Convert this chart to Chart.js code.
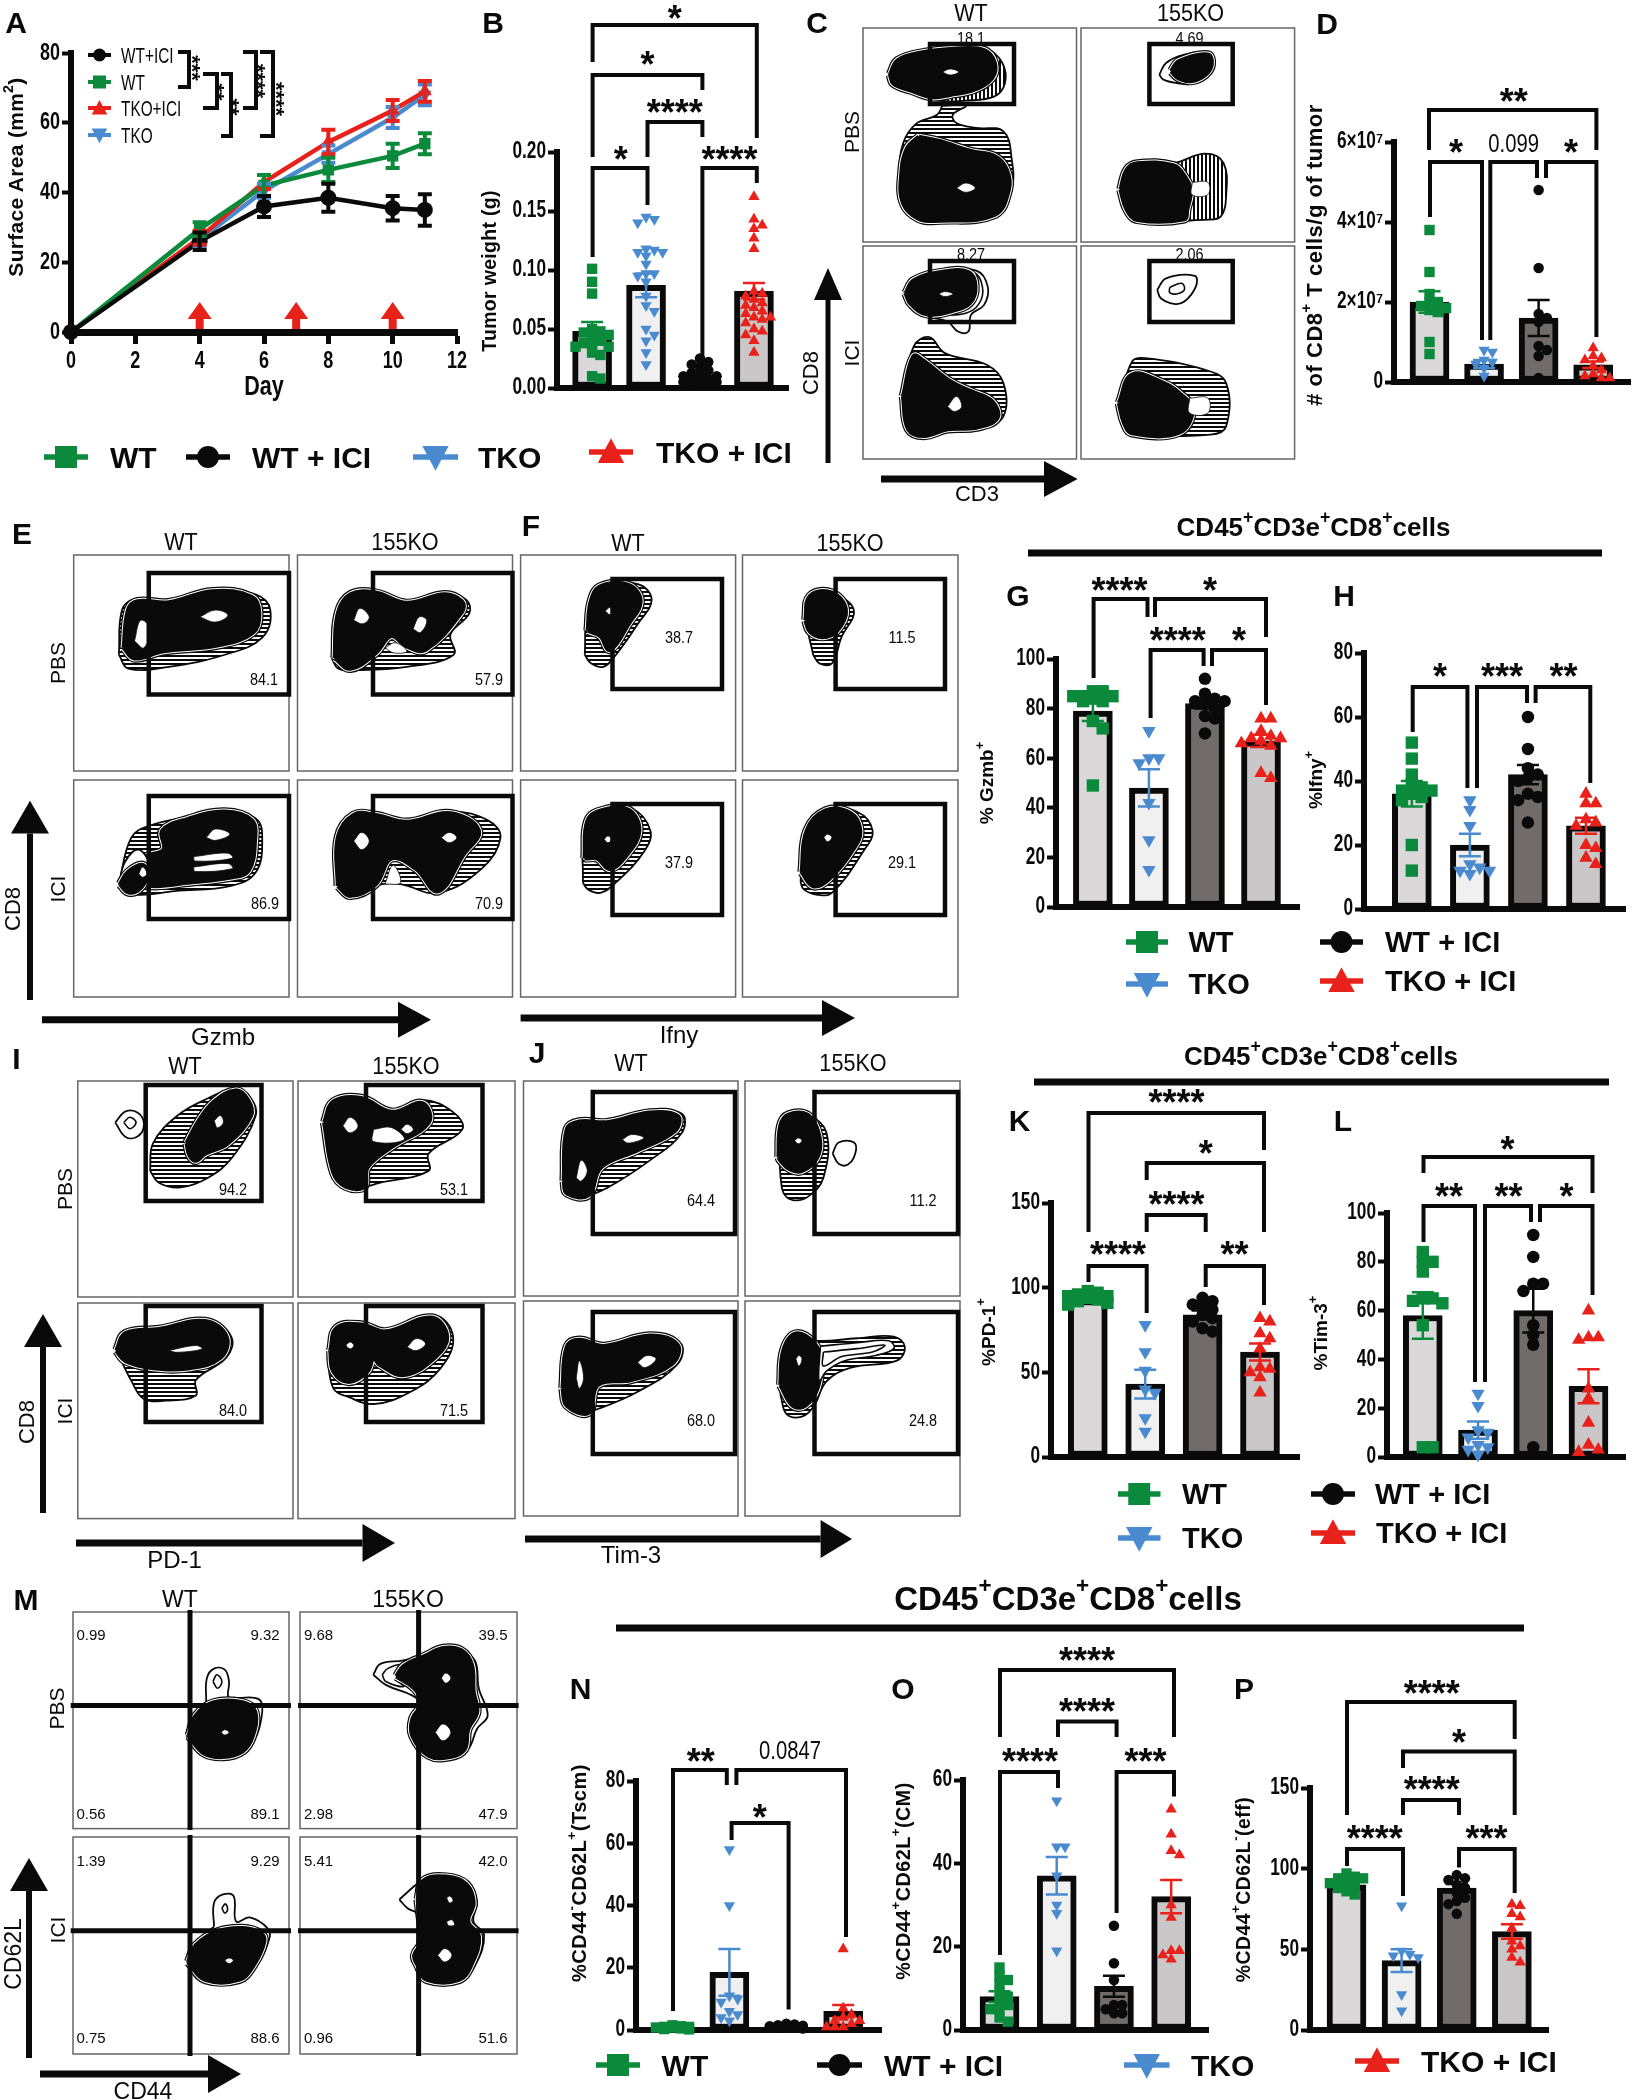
<!DOCTYPE html>
<html>
<head>
<meta charset="utf-8">
<title>CD8 T cell figure</title>
<script src="https://cdn.jsdelivr.net/npm/chart.js@4"></script>
<style>
  body { margin: 0; background: #fff; }
  #page { position: relative; width: 1636px; height: 2100px; overflow: hidden; }
  canvas { position: absolute; z-index: 1; }
  svg { position: absolute; left: 0; top: 0; z-index: 2; }
</style>
</head>
<body>
<div id="page"><svg id="ann" width="1636" height="2100"></svg></div>
<script>
// ---------- panel A, tumor growth
const days = [0, 4, 6, 8, 10, 11];
const arrowDays = [4, 7, 10];
const aWtIci = [0, 26, 36, 38.5, 35.5, 35];
const aWtIciErr = [0, 2.5, 3, 4, 3.5, 4.5];
const aWt = [0, 29.5, 42, 46.5, 50.5, 54];
const aWtErr = [0, 2, 3, 3.5, 3.5, 3];
const aTkoIci = [0, 27, 43, 54.5, 63.5, 69];
const aTkoIciErr = [0, 2, 2, 3.5, 3, 3];
const aTko = [0, 26.5, 40.5, 51, 61.5, 68];
const aTkoErr = [0, 2, 2, 2.5, 3, 3];

// ---------- bar panels, order is WT, TKO, WT+ICI, TKO+ICI
const bMeans = [0.048, 0.087, 0.01, 0.082];
const bSem = [0.008, 0.01, 0.002, 0.007];
const bWT = [0.101, 0.09, 0.08, 0.05, 0.048, 0.047, 0.045, 0.043, 0.04, 0.038, 0.037, 0.035, 0.035, 0.03, 0.028, 0.01, 0.008];
const bTKO = [0.145, 0.143, 0.14, 0.118, 0.117, 0.115, 0.115, 0.112, 0.105, 0.097, 0.097, 0.095, 0.09, 0.078, 0.07, 0.065, 0.05, 0.045, 0.04, 0.03, 0.02];
const bICI = [0.025, 0.022, 0.02, 0.018, 0.015, 0.013, 0.012, 0.01, 0.01, 0.008, 0.007, 0.006, 0.005, 0.005, 0.004, 0.003];
const bTI = [0.162, 0.143, 0.138, 0.135, 0.127, 0.118, 0.082, 0.08, 0.078, 0.075, 0.072, 0.07, 0.068, 0.065, 0.063, 0.06, 0.06, 0.058, 0.055, 0.05, 0.048, 0.045, 0.04, 0.03];

const dMeans = [2.0e7, 0.45e7, 1.6e7, 0.43e7];
const dSem = [0.27e7, 0.1e7, 0.45e7, 0.08e7];
const dWT = [3.8e7, 2.75e7, 2.2e7, 2.0e7, 2.0e7, 1.9e7, 1.85e7, 1.8e7, 1.75e7, 1.0e7, 0.7e7];
const dTKO = [0.8e7, 0.75e7, 0.55e7, 0.5e7, 0.45e7, 0.35e7, 0.15e7];
const dICI = [4.8e7, 2.85e7, 1.7e7, 1.6e7, 1.5e7, 0.9e7, 0.8e7, 0.65e7, 0.1e7];
const dTI = [0.85e7, 0.65e7, 0.6e7, 0.55e7, 0.4e7, 0.3e7, 0.2e7, 0.15e7, 0.1e7, 0.1e7];

const gMeans = [79, 48, 82, 67];
const gSem = [4, 7.5, 2, 2.5];
const gWT = [87, 87, 85, 85, 85, 84, 83, 83, 75, 72, 49];
const gTKO = [71, 60, 60, 58, 42, 27, 15];
const gICI = [92, 86, 84, 83, 83, 82, 80, 77, 76, 70];
const gTI = [76, 76, 71, 69, 68, 68, 67, 66, 65, 54, 52];

const hMeans = [36, 20, 42, 26];
const hSem = [4, 3.5, 3, 2.5];
const hWT = [52, 47, 42, 39, 38, 37, 37, 36, 35, 34, 20, 12];
const hTKO = [34, 31, 26, 14, 13, 12, 12, 11];
const hICI = [60, 50, 44, 42, 41, 40, 36, 35, 34, 27];
const hTI = [36, 33, 33, 28, 27, 26, 20, 19, 16, 14];

const kMeans = [93, 43, 84, 62];
const kSem = [1, 8.5, 2.5, 5];
const kWT = [98, 97, 96, 95, 95, 94, 93, 92, 91, 90];
const kTKO = [78, 62, 51, 40, 38, 23, 15];
const kICI = [94, 92, 90, 89, 87, 84, 82, 80, 76, 74];
const kTI = [82, 80, 73, 70, 64, 53, 52, 50, 47, 38];

const lMeans = [58, 11, 60, 29];
const lSem = [9.5, 3.5, 9, 7];
const lWT = [84, 80, 80, 76, 65, 65, 64, 63, 54, 4, 4];
const lTKO = [26, 21, 11, 10, 8, 5, 4, 3, 1];
const lICI = [91, 82, 71, 71, 68, 54, 50, 46, 4];
const lTI = [60, 49, 49, 48, 28, 24, 14, 5, 3, 2];

const nMeans = [0.8, 18.5, 1.2, 6];
const nSem = [0.2, 7.5, 0.2, 2];
const nWT = [1.5, 1.2, 1, 1, 0.8, 0.8, 0.5, 0.3, 0.2];
const nTKO = [58, 40, 11, 10, 9, 6, 5, 4, 3];
const nICI = [2, 1.8, 1.5, 1.4, 1.2, 1, 1, 0.8, 0.5];
const nTI = [26, 7, 5, 4, 3, 3, 2, 1, 1, 1];

const oMeans = [8, 37, 10.5, 32];
const oSem = [1.3, 4.5, 2.5, 4];
const oWT = [15, 13, 12, 11, 9, 8, 7, 6, 5, 5, 3, 2];
const oTKO = [55, 44, 44, 37, 30, 28, 19];
const oICI = [25, 16, 12, 6, 6, 5, 4, 4];
const oTI = [53, 47, 43, 42, 30, 27, 19, 19, 18, 17];

const pMeans = [90, 43, 88, 61];
const pSem = [1.5, 7, 2.5, 4.5];
const pWT = [97, 95, 94, 94, 92, 91, 90, 88, 86, 84];
const pTKO = [77, 49, 47, 46, 45, 22, 12];
const pICI = [96, 94, 93, 90, 88, 85, 82, 80, 78, 72];
const pTI = [78, 77, 72, 70, 63, 55, 52, 50, 45, 42];

// ---------- tick labels
const aTicks = [0, 20, 40, 60, 80];
const bTicks = [0, 0.05, 0.1, 0.15, 0.2];
const bTickLabels = ['0.00', '0.05', '0.10', '0.15', '0.20'];
const dTicks = [0, 2e7, 4e7, 6e7];
const dTickLabels = ['0', '2×10⁷', '4×10⁷', '6×10⁷'];
const pct100 = [0, 20, 40, 60, 80, 100];
const pct80 = [0, 20, 40, 60, 80];
const pct60 = [0, 20, 40, 60];
const pct150 = [0, 50, 100, 150];

const GREEN = '#0b8a3c', BLUE = '#4a8bd0', BLACK = '#0a0a0a', RED = '#e8211a';
const groupColors = [GREEN, BLUE, BLACK, RED];
const barFills = ['#dad8d9', '#f0f0f0', '#716c69', '#c9c7c7'];
const SANS = '"Liberation Sans", sans-serif';

Chart.defaults.animation = false;
Chart.defaults.responsive = false;
Chart.defaults.plugins.legend.display = false;
Chart.defaults.plugins.tooltip.enabled = false;
Chart.defaults.color = '#000';

const page = document.getElementById('page');
function makeCanvas(x, y, w, h) {
  const c = document.createElement('canvas');
  c.width = w; c.height = h;
  c.style.left = x + 'px'; c.style.top = y + 'px';
  page.appendChild(c);
  return c;
}

// no narrow font on the box, so squeeze the tick labels by hand
function condense(canvas, sx) {
  const ctx = canvas.getContext('2d');
  const fill = ctx.fillText;
  ctx.fillText = function (s, x, y) {
    this.save();
    this.translate(x, y);
    this.scale(sx, 1);
    fill.call(this, s, 0, 0);
    this.restore();
  };
}

function drawErr(ctx, x, yLo, yHi, color, lw, cap) {
  ctx.save();
  ctx.strokeStyle = color; ctx.lineWidth = lw;
  ctx.beginPath();
  ctx.moveTo(x, yLo); ctx.lineTo(x, yHi);
  ctx.moveTo(x - cap, yLo); ctx.lineTo(x + cap, yLo);
  ctx.moveTo(x - cap, yHi); ctx.lineTo(x + cap, yHi);
  ctx.stroke();
  ctx.restore();
}

// graphpad style swarm, spreads the points sideways only when they would touch
function swarm(values, pxPerUnit, mark, spacing) {
  const placed = [];
  const slots = [0, 1, -1, 2, -2];
  [...values].sort((a, b) => b - a).forEach(v => {
    const py = v * pxPerUnit;
    let best = 0, bestGap = -1;
    for (const slot of slots) {
      const px = slot * mark * 0.8;
      const gap = Math.min(Infinity, ...placed.map(o => Math.hypot(o.px - px, o.py - py)));
      if (gap >= mark * 0.62) { best = px; bestGap = Infinity; break; }
      if (gap > bestGap) { bestGap = gap; best = px; }
    }
    placed.push({ px: best, py, x: best / spacing, y: v });
  });
  return placed;
}

function barPanel(o) {
  const padL = 75, padT = 20, padR = 4, padB = 20;
  const w = o.right - o.left, h = o.y0 - o.yTop;
  const s = (o.centers[3] - o.centers[0]) / 3;
  const canvas = makeCanvas(o.left - padL, o.yTop - padT, w + padL + padR, h + padT + padB);
  condense(canvas, 0.75);
  const pxPerUnit = h / o.max;
  const shapes = [['rect', 0], ['triangle', 180], ['circle', 0], ['triangle', 0]];
  const mark = o.mark || 12.5;
  const datasets = [];
  o.points.forEach((vals, g) => {
    const pts = swarm(vals, pxPerUnit, mark, s).map(p => ({ x: g + p.x, y: p.y }));
    datasets.push({
      type: 'scatter', data: pts, clip: false,
      pointStyle: shapes[g][0], pointRotation: shapes[g][1],
      pointRadius: shapes[g][0] === 'rect' ? mark * 0.7 : shapes[g][0] === 'circle' ? mark / 2 : mark * 0.62,
      pointBackgroundColor: groupColors[g], pointBorderWidth: 0
    });
  });
  datasets.push({
    type: 'bar', data: o.means.map((v, i) => ({ x: i, y: v })),
    backgroundColor: barFills, borderColor: BLACK, borderWidth: 6,
    borderSkipped: false, barThickness: 39
  });
  new Chart(canvas, {
    type: 'bar',
    data: { datasets },
    options: {
      layout: { padding: { top: padT, right: padR } },
      scales: {
        x: {
          type: 'linear', offset: false, min: (o.left - o.centers[0]) / s, max: (o.right - o.centers[0]) / s,
          grid: { display: false, offset: false }, ticks: { display: false },
          border: { color: BLACK, width: 6 }, afterFit(a) { a.height = padB; }
        },
        y: {
          min: 0, max: o.max,
          afterBuildTicks(a) { a.ticks = o.ticks.map(v => ({ value: v })); },
          afterFit(a) { a.width = padL; },
          grid: { drawOnChartArea: false, tickLength: 9, tickWidth: 4, tickColor: BLACK },
          border: { color: BLACK, width: 6 },
          ticks: {
            font: { family: SANS, size: 23, weight: 'bold' }, color: BLACK, padding: 2,
            callback: (v, i) => (o.tickLabels ? o.tickLabels[i] : v)
          }
        }
      }
    },
    plugins: [{
      id: 'sem',
      afterDatasetsDraw(ch) {
        o.means.forEach((m, i) => {
          drawErr(ch.ctx, ch.scales.x.getPixelForValue(i), ch.scales.y.getPixelForValue(m - o.sem[i]),
            ch.scales.y.getPixelForValue(m + o.sem[i]), groupColors[i], 2.5, 11);
        });
      }
    }]
  });
}

// ---------- panel A
(function () {
  const padL = 60, padT = 20, padR = 20, padB = 48;
  const left = 71, right = 457.6, top = 53, bottom = 332;
  const canvas = makeCanvas(left - padL, top - padT, right - left + padL + padR, bottom - top + padT + padB);
  condense(canvas, 0.75);
  const series = [
    [aWtIci, aWtIciErr, BLACK, 'circle', 0],
    [aWt, aWtErr, GREEN, 'rect', 0],
    [aTkoIci, aTkoIciErr, RED, 'triangle', 0],
    [aTko, aTkoErr, BLUE, 'triangle', 180]
  ];
  new Chart(canvas, {
    type: 'line',
    data: {
      datasets: series.map(s => ({
        data: days.map((d, i) => ({ x: d, y: s[0][i] })), clip: false, tension: 0,
        borderColor: s[2], borderWidth: 4.5, pointStyle: s[3], pointRotation: s[4],
        pointRadius: 8, pointBackgroundColor: s[2], pointBorderWidth: 0
      }))
    },
    options: {
      layout: { padding: { top: padT, right: padR } },
      scales: {
        x: {
          type: 'linear', min: 0, max: 12,
          afterFit(a) { a.height = padB; },
          grid: { drawOnChartArea: false, tickLength: 12, tickWidth: 5, tickColor: BLACK },
          border: { color: BLACK, width: 7 },
          ticks: { stepSize: 2, font: { family: SANS, size: 24, weight: 'bold' }, color: BLACK, padding: 3, maxRotation: 0 }
        },
        y: {
          min: 0, max: 80,
          afterBuildTicks(a) { a.ticks = aTicks.map(v => ({ value: v })); },
          afterFit(a) { a.width = padL; },
          grid: { drawOnChartArea: false, tickLength: 9, tickWidth: 4, tickColor: BLACK },
          border: { color: BLACK, width: 6 },
          ticks: { font: { family: SANS, size: 24, weight: 'bold' }, color: BLACK, padding: 2 }
        }
      }
    },
    plugins: [{
      id: 'errAndArrows',
      afterDatasetsDraw(ch) {
        const x = ch.scales.x, y = ch.scales.y, ctx = ch.ctx;
        [...series].reverse().forEach(s => {
          days.forEach((d, i) => {
            if (s[1][i]) drawErr(ctx, x.getPixelForValue(d), y.getPixelForValue(s[0][i] - s[1][i]),
              y.getPixelForValue(s[0][i] + s[1][i]), s[2], 4, 7);
          });
        });
        arrowDays.forEach(d => {
          const px = x.getPixelForValue(d), base = y.getPixelForValue(0);
          ctx.fillStyle = RED;
          ctx.fillRect(px - 4, base - 18, 8, 15);
          ctx.beginPath();
          ctx.moveTo(px, base - 30); ctx.lineTo(px + 12, base - 13); ctx.lineTo(px - 12, base - 13);
          ctx.closePath(); ctx.fill();
        });
      }
    }]
  });
})();

barPanel({ left: 557, right: 792, yTop: 152, y0: 388, max: 0.2, centers: [592.6, 647.5, 702.4, 756.8], means: bMeans, sem: bSem, points: [bWT, bTKO, bICI, bTI], ticks: bTicks, tickLabels: bTickLabels, mark: 10.5 });
barPanel({ left: 1394, right: 1634, yTop: 142, y0: 382, max: 6e7, centers: [1430, 1486, 1541, 1596], means: dMeans, sem: dSem, points: [dWT, dTKO, dICI, dTI], ticks: dTicks, tickLabels: dTickLabels, mark: 10.5 });
barPanel({ left: 1056, right: 1304, yTop: 659, y0: 907, max: 100, centers: [1093.6, 1151, 1208, 1265], means: gMeans, sem: gSem, points: [gWT, gTKO, gICI, gTI], ticks: pct100 });
barPanel({ left: 1364, right: 1630, yTop: 653, y0: 909, max: 80, centers: [1412.7, 1471.7, 1531, 1590], means: hMeans, sem: hSem, points: [hWT, hTKO, hICI, hTI], ticks: pct80 });
barPanel({ left: 1051, right: 1304, yTop: 1203, y0: 1457, max: 150, centers: [1088.5, 1146.7, 1205.7, 1264], means: kMeans, sem: kSem, points: [kWT, kTKO, kICI, kTI], ticks: pct150 });
barPanel({ left: 1387, right: 1630, yTop: 1213, y0: 1457, max: 100, centers: [1423.5, 1480, 1536.4, 1592.5], means: lMeans, sem: lSem, points: [lWT, lTKO, lICI, lTI], ticks: pct100 });
barPanel({ left: 636, right: 885, yTop: 1781, y0: 2030, max: 80, centers: [673, 731.6, 788.6, 846], means: nMeans, sem: nSem, points: [nWT, nTKO, nICI, nTI], ticks: pct80, mark: 10.5 });
barPanel({ left: 963, right: 1212, yTop: 1780, y0: 2030, max: 60, centers: [1000, 1058, 1116.6, 1174], means: oMeans, sem: oSem, points: [oWT, oTKO, oICI, oTI], ticks: pct60, mark: 10.5 });
barPanel({ left: 1310, right: 1552, yTop: 1788, y0: 2030, max: 150, centers: [1347, 1403, 1459, 1514.7], means: pMeans, sem: pSem, points: [pWT, pTKO, pICI, pTI], ticks: pct150, mark: 10.5 });

// ---------- contour plots. box = page pixels, chan = instrument channel window of that plot
// o outer contour, m middle contours, c solid core, r open rings, h bright centres
// v = fringe contours run upright, w = no packed fringe
const flows = [
  // C
  { box: [863, 28, 1076.5, 242], chan: [83, 85, 493, 727], gate: [930, 44, 1014, 104], blobs: [
    { o: [235,318,225,345,185,372,160,430,153,520,160,610,190,660,230,665,340,650,368,570,368,480,352,395,300,385,262,370,255,345,280,318],
      c: [190,412,230,425,290,455,335,470,358,510,362,570,335,645,230,662,190,657,160,610,157,520,168,445] , h: [[262,565,280,550,298,565,280,578]] },
    { o: [132,225,150,180,200,155,260,145,320,148,350,190,355,250,335,290,280,303,225,303,175,280,140,255], v: 1,
      c: [135,225,150,182,200,158,260,148,315,152,335,190,330,235,295,270,250,285,215,292,175,272,142,252], h: [[235,217,250,208,266,217,250,226]] }
  ] },
  { box: [1081, 28, 1294.6, 242], chan: [502, 85, 912, 727], gate: [1149.4, 44, 1232.7, 104], blobs: [
    { o: [652,225,665,190,700,165,745,160,755,190,745,225,715,252,685,250,660,240], c: [675,215,690,185,745,165,752,195,740,225,715,243,690,236], w: 1 },
    { o: [578,570,590,510,610,490,680,490,740,462,775,490,780,590,770,650,745,660,610,660,590,630], v: 1,
      c: [578,570,590,510,610,492,680,498,700,530,712,570,705,630,700,658,610,660,590,630], h: [[715,548,745,548,745,585,715,585]] }
  ] },
  { box: [863, 246, 1076.5, 459], chan: [83, 738, 493, 1378], gate: [930, 261, 1014, 322], blobs: [
    { o: [158,1190,180,1040,210,1012,240,1060,320,1095,352,1150,352,1250,310,1285,245,1290,200,1310,170,1290],
      c: [160,1190,180,1070,200,1085,250,1145,290,1175,330,1205,340,1255,300,1283,245,1288,200,1308,170,1288], h: [[245,1220,262,1190,272,1220,258,1235]] },
    { o: [162,880,175,840,230,815,300,812,322,860,315,915,290,945,285,995,265,995,245,965,195,945,170,915], w: 1,
      m: [[165,880,178,842,230,820,295,818,312,862,305,912,280,940,230,945,195,940,172,912]],
      c: [165,880,180,842,230,818,285,817,298,860,288,908,255,932,205,942,175,912], h: [[228,882,240,875,255,882,240,890]] }
  ] },
  { box: [1081, 246, 1294.6, 459], chan: [502, 738, 912, 1378], gate: [1149.4, 261, 1232.7, 322], blobs: [
    { o: [648,870,665,835,720,828,722,860,700,905,680,912,655,895], r: [[672,862,695,850,700,870,685,882,672,878]], w: 1 },
    { o: [575,1210,600,1085,625,1075,740,1110,780,1150,780,1280,750,1305,600,1300,585,1270],
      c: [575,1210,600,1125,660,1150,690,1180,715,1230,690,1298,600,1300,585,1270], h: [[710,1195,745,1195,745,1240,710,1240]] }
  ] },
  // E
  { box: [73.7, 555, 289, 771], chan: [118, 130, 463, 758], gate: [148.75, 573, 289, 694.5], blobs: [
    { o: [190,420,195,290,215,258,265,260,340,232,410,245,433,290,420,370,360,420,270,455,205,460],
      c: [198,400,205,290,220,265,270,268,340,236,403,252,415,300,405,355,350,392,260,410,215,430],
      h: [[215,380,225,320,240,345,230,400],[320,310,345,290,365,305,345,325]] }
  ] },
  { box: [297.5, 555, 512.5, 771], chan: [476, 130, 820, 758], gate: [373, 573, 512.5, 694.5], blobs: [
    { o: [530,430,535,300,560,240,600,235,650,265,710,240,745,260,750,300,720,360,725,420,650,455,560,465,540,460],
      c: [535,430,540,300,560,245,600,240,650,270,710,245,738,265,738,295,680,405,650,395,625,365,600,415,560,460],
      h: [[565,320,575,285,590,310,580,330],[660,345,670,310,682,320,672,355],[615,400,632,385,650,410,630,415]] }
  ] },
  { box: [73.7, 780, 289, 997], chan: [118, 783, 463, 1412], gate: [148.75, 796, 289, 919], blobs: [
    { o: [190,1085,210,950,240,915,300,890,360,870,410,895,420,950,410,1050,370,1090,280,1105,215,1115],
      c: [225,1085,232,1010,262,985,260,930,300,897,360,875,403,900,408,960,398,1045,370,1065,300,1080,250,1090],
      h: [[330,950,345,925,368,940,345,958],[310,1005,365,995,372,1010,312,1018],[310,1035,365,1025,372,1040,312,1048]] },
    { o: [190,1085,200,1020,222,985,240,1040,225,1105,205,1112], c: [192,1085,205,1050,228,1030,235,1060,222,1100,205,1108], w: 1, h: [[222,1055,228,1035,235,1055,228,1065]] }
  ] },
  { box: [297.5, 780, 512.5, 997], chan: [476, 783, 820, 1412], gate: [373, 796, 512.5, 919], blobs: [
    { o: [540,1090,540,950,565,885,600,885,650,905,720,875,780,900,800,950,770,1040,700,1110,640,1085,610,1085,560,1120],
      c: [540,1090,540,950,565,885,600,885,650,905,720,880,765,930,740,1000,700,1105,665,1040,625,1010,600,1085,560,1118],
      h: [[565,960,578,935,590,960,578,985],[705,950,718,935,730,950,718,965],[615,1085,628,1030,640,1080]] }
  ] },
  // F
  { box: [520.6, 555, 735.6, 771], chan: [833, 130, 1177, 758], gate: [612.5, 579, 722, 689], blobs: [
    { o: [935,420,940,270,960,220,1020,215,1042,260,1020,330,985,420,965,455,945,445],
      c: [940,350,945,265,960,222,1005,218,1024,265,1005,330,975,405,960,365], h: [[968,293,975,283,982,293,975,303]] }
  ] },
  { box: [742.5, 555, 958, 771], chan: [1188, 130, 1533, 758], gate: [835.6, 579, 945, 689], blobs: [
    { o: [1300,420,1288,300,1300,245,1330,240,1365,290,1345,370,1330,445,1310,445],
      c: [1288,320,1295,250,1330,240,1352,290,1338,350,1315,368,1295,352] }
  ] },
  { box: [520.6, 780, 735.6, 997], chan: [833, 783, 1177, 1412], gate: [612.5, 804, 722, 915], blobs: [
    { o: [932,1080,935,900,960,865,1010,865,1040,930,1030,990,985,1080,960,1110,940,1100],
      c: [935,1010,940,900,965,870,1005,870,1022,930,1002,1000,975,1040,955,1010], h: [[966,955,972,945,978,955,972,965]] }
  ] },
  { box: [742.5, 780, 958, 997], chan: [1188, 783, 1533, 1412], gate: [835.6, 804, 945, 915], blobs: [
    { o: [1280,1080,1285,930,1320,870,1370,875,1395,930,1380,990,1330,1110,1305,1115,1285,1100],
      c: [1282,1050,1290,930,1320,872,1360,880,1375,930,1365,980,1325,1070,1300,1090], h: [[1317,950,1323,940,1330,950,1323,962]] }
  ] },
  // I
  { box: [77.8, 1081, 293, 1297], chan: [127, 120, 479, 745], gate: [145.7, 1085, 261.5, 1201], blobs: [
    { o: [188,240,205,208,225,212,235,245,225,280,205,282], r: [[202,240,212,225,222,240,212,258]], w: 1 },
    { o: [245,380,250,300,290,220,340,170,385,142,410,170,418,220,380,340,340,400,295,428,260,415],
      c: [305,300,325,235,350,180,385,148,405,175,410,220,372,300,335,330,320,350,310,335], h: [[350,235,360,220,365,240,355,255]] }
  ] },
  { box: [298, 1081, 515, 1297], chan: [487, 120, 841, 745], gate: [366, 1085, 482.5, 1201], blobs: [
    { o: [530,240,545,180,590,168,640,205,690,175,740,210,755,260,700,330,700,380,620,415,590,428,565,425,545,385],
      c: [530,240,545,180,590,170,640,210,690,185,700,240,640,310,600,370,595,425,565,425,545,385],
      h: [[560,250,572,225,585,250,572,270],[655,260,665,245,675,260,665,272],[610,260,640,255,660,290,610,295]] }
  ] },
  { box: [77.8, 1303, 293, 1518.6], chan: [127, 762, 479, 1388], gate: [145.7, 1306, 261.5, 1422], blobs: [
    { o: [190,900,205,850,260,835,340,812,378,860,370,920,320,985,320,1030,270,1045,235,1040,215,990],
      c: [190,900,205,850,260,838,335,815,370,860,360,920,310,950,250,950,205,930], h: [[275,900,320,885,330,895,290,905]] }
  ] },
  { box: [298, 1303, 515, 1518.6], chan: [487, 762, 841, 1388], gate: [366, 1306, 482.5, 1422], blobs: [
    { o: [535,920,550,830,590,820,630,840,710,798,740,860,720,950,670,1020,610,1055,570,1035,545,1010],
      c: [540,900,550,835,590,825,630,845,705,805,730,860,710,920,660,970,620,940,610,920,600,960,570,990,545,960],
      h: [[665,890,680,865,695,880,680,900],[565,885,572,875,578,885,572,895]] }
  ] },
  // J
  { box: [523.5, 1081, 738, 1296], chan: [855, 120, 1205, 743], gate: [592.8, 1092, 735, 1234], blobs: [
    { o: [920,410,925,260,945,238,990,240,1060,210,1112,215,1112,270,1060,350,990,430,950,455,925,445],
      c: [920,410,925,260,945,238,990,240,1060,212,1105,222,1100,265,1040,320,980,370,960,450,925,445],
      h: [[940,400,948,350,958,380,948,410],[1015,290,1030,275,1050,285,1025,300]] }
  ] },
  { box: [745, 1081, 960, 1296], chan: [1217, 120, 1568, 743], gate: [814.5, 1092, 958, 1234], blobs: [
    { o: [1360,330,1370,298,1395,298,1397,330,1385,362,1370,360], w: 1 },
    { o: [1275,400,1272,260,1285,218,1320,218,1350,270,1345,400,1320,455,1295,465,1280,445],
      c: [1272,340,1275,250,1288,218,1320,220,1338,280,1335,340,1310,380,1290,375,1275,350], h: [[1298,293,1304,285,1310,293,1304,302]] }
  ] },
  { box: [523.5, 1301, 738, 1516], chan: [855, 757, 1205, 1380], gate: [592.8, 1312, 735, 1454], blobs: [
    { o: [918,1010,925,890,945,868,990,885,1060,855,1110,880,1105,940,1040,1020,975,1070,940,1085,922,1060],
      c: [918,1010,925,890,945,870,985,888,1060,858,1105,885,1095,940,1030,985,975,1000,960,1080,925,1060],
      h: [[1040,935,1055,915,1070,925,1052,950],[940,980,945,930,952,980,945,1010]] }
  ] },
  { box: [745, 1301, 960, 1516], chan: [1217, 757, 1568, 1380], gate: [814.5, 1312, 958, 1454], blobs: [
    { o: [1275,1030,1275,900,1300,850,1330,872,1400,865,1460,860,1478,890,1465,930,1390,950,1350,990,1330,1060,1310,1092,1285,1085],
      r: [[1340,888,1400,878,1452,872,1460,895,1430,915,1380,930,1350,960,1338,990],[1345,905,1400,895,1445,885,1425,905,1375,918,1345,945]],
      c: [1275,1000,1280,900,1300,852,1330,880,1340,930,1335,1010,1315,1060,1295,1060], h: [[1300,925,1305,915,1310,925,1305,945]] }
  ] },
  // M
  { box: [73, 1612, 289, 1828.6], chan: [205, 125, 810, 765], blobs: [
    { o: [578,390,580,320,600,292,630,295,642,330,640,375,660,378,725,382,735,420,715,500,680,540,625,555,570,545,525,495,545,430], w: 1,
      r: [[597,330,608,310,622,330,610,350]],
      c: [530,490,550,430,600,392,680,392,715,420,708,490,680,535,625,552,570,540], h: [[620,480,630,472,642,480,630,488]] }
  ] },
  { box: [300, 1612, 517, 1828.6], chan: [840, 125, 1447, 765], blobs: [
    { o: [1045,310,1065,278,1130,268,1190,250,1240,228,1290,235,1330,270,1340,350,1365,430,1335,470,1310,530,1260,555,1200,550,1150,490,1150,440,1175,400,1160,375,1080,340], w: 1,
      m: [[1070,310,1085,292,1125,282,1110,320,1130,345,1080,330]],
      c: [1110,315,1130,285,1190,255,1240,232,1290,238,1320,280,1325,360,1335,420,1310,470,1300,530,1260,552,1200,548,1155,490,1155,440,1180,395,1160,350],
      h: [[1235,320,1248,305,1262,320,1248,335],[1218,480,1240,455,1262,480,1240,505]] }
  ] },
  { box: [73, 1837, 289, 2054], chan: [205, 790, 810, 1432], blobs: [
    { o: [600,1055,600,985,625,960,655,965,662,1040,700,1028,750,1060,755,1090,720,1170,670,1215,575,1215,525,1160,540,1110], w: 1,
      r: [[622,1000,632,988,638,1005,630,1015]],
      c: [528,1160,550,1110,610,1070,680,1060,730,1075,740,1100,710,1170,670,1212,575,1212], h: [[630,1155,642,1148,654,1155,642,1165]] }
  ] },
  { box: [300, 1837, 517, 2054], chan: [840, 790, 1447, 1432], blobs: [
    { o: [1118,975,1160,935,1185,915,1250,905,1310,925,1335,980,1325,1040,1355,1080,1330,1170,1290,1215,1190,1215,1165,1170,1155,1140,1170,1100,1170,1020,1140,1000], w: 1,
      c: [1170,975,1185,920,1250,908,1305,930,1325,985,1310,1040,1340,1085,1320,1165,1285,1212,1195,1212,1170,1170,1160,1140,1180,1100],
      h: [[1225,1140,1245,1120,1265,1140,1245,1160],[1250,970,1260,965,1268,978,1258,985],[1250,1040,1265,1035,1272,1050,1255,1052]] }
  ] }
];

function stripes(vertical) {
  const c = document.createElement('canvas');
  c.width = vertical ? 4 : 1; c.height = vertical ? 1 : 4;
  const x = c.getContext('2d');
  x.fillStyle = '#fff'; x.fillRect(0, 0, c.width, c.height);
  x.fillStyle = BLACK;
  if (vertical) x.fillRect(0, 0, 2, 1); else x.fillRect(0, 0, 1, 2);
  return x.createPattern(c, 'repeat');
}
const fringeH = stripes(false), fringeV = stripes(true);

function toPoints(flat) {
  const pts = [];
  for (let i = 0; i < flat.length; i += 2) pts.push({ x: flat[i], y: flat[i + 1] });
  pts.push({ x: flat[0], y: flat[1] });
  return pts;
}

function contour(flat, fill, stroke, width) {
  return {
    type: 'scatter', data: toPoints(flat), showLine: true, clip: false, tension: 0.4,
    pointRadius: 0, borderColor: stroke, borderWidth: width,
    backgroundColor: fill || 'transparent', fill: fill ? 'shape' : false
  };
}

flows.forEach(f => {
  const [x0, y0, x1, y1] = f.box;
  const canvas = makeCanvas(Math.round(x0), Math.round(y0), Math.round(x1 - x0), Math.round(y1 - y0));
  const layers = [];
  f.blobs.forEach(b => {
    layers.push(contour(b.o, b.w || !b.c ? '#fff' : (b.v ? fringeV : fringeH), BLACK, 1.8));
    (b.m || []).forEach(m => layers.push(contour(m, null, BLACK, 1.6)));
    if (b.c) {
      layers.push(contour(b.c, null, BLACK, 9));
      layers.push(contour(b.c, null, '#fff', 6.6));
      layers.push(contour(b.c, null, BLACK, 4.6));
      layers.push(contour(b.c, BLACK, BLACK, 1));
    }
    (b.r || []).forEach(r => layers.push(contour(r, '#fff', BLACK, 1.6)));
    (b.h || []).forEach(h => layers.push(contour(h, '#fff', BLACK, 0.8)));
  });
  new Chart(canvas, {
    type: 'scatter',
    data: { datasets: layers.reverse() },
    options: {
      scales: {
        x: { type: 'linear', display: false, min: f.chan[0], max: f.chan[2] },
        y: { type: 'linear', display: false, min: f.chan[1], max: f.chan[3], reverse: true }
      }
    }
  });
});

// ---------- everything around the charts: labels, brackets, gates, arrows
let ann = '';
function text(x, y, s, size, o = {}) {
  const sx = o.sx || 1;
  const parts = [];
  if (o.rot) parts.push(`rotate(${o.rot} ${x} ${y})`);
  if (sx !== 1) parts.push(`translate(${x} ${y}) scale(${sx} 1) translate(${-x} ${-y})`);
  const tf = parts.length ? ` transform="${parts.join(' ')}"` : '';
  ann += `<text x="${x}" y="${y}" font-size="${size}" font-family='${SANS}' font-weight="${o.weight || 'normal'}"` +
    ` text-anchor="${o.anchor || 'middle'}" dominant-baseline="central" letter-spacing="${o.ls || 0}" fill="#0a0a0a"${tf}>${s}</text>`;
}
function stars(x, y, s, rot) {
  const size = 36;
  if (rot) {
    ann += `<text x="${x}" y="${y}" font-size="22" font-family='${SANS}' font-weight="bold" text-anchor="middle" fill="#0a0a0a" transform="rotate(90 ${x} ${y}) translate(0 12)">${s}</text>`;
  } else {
    ann += `<text x="${x}" y="${y + size * 0.56}" font-size="${size}" font-family='${SANS}' font-weight="bold" text-anchor="middle" fill="#0a0a0a">${s}</text>`;
  }
}
function line(x1, y1, x2, y2, w, color = '#0a0a0a') {
  ann += `<line x1="${x1}" y1="${y1}" x2="${x2}" y2="${y2}" stroke="${color}" stroke-width="${w}"/>`;
}
function bracket(xa, ya, xb, yb, top, label, lx, ly) {
  ann += `<path d="M${xa} ${ya}V${top}H${xb}V${yb}" fill="none" stroke="#0a0a0a" stroke-width="4"/>`;
  if (label[0] === '*') stars(lx, ly, label);
  else text(lx, ly, label, 26, { sx: 0.78 });
}
function arrowUp(x, bottom, tip, base, halfW, shaft = 6) {
  line(x, bottom, x, base, shaft);
  ann += `<polygon points="${x},${tip} ${x + halfW},${base} ${x - halfW},${base}" fill="#0a0a0a"/>`;
}
function arrowRight(y, left, tip, base, halfH, shaft = 7) {
  line(left, y, base, y, shaft);
  ann += `<polygon points="${tip},${y} ${base},${y - halfH} ${base},${y + halfH}" fill="#0a0a0a"/>`;
}
function marker(kind, color, x, y, s) {
  if (kind === 'rect') ann += `<rect x="${x - s}" y="${y - s}" width="${2 * s}" height="${2 * s}" fill="${color}"/>`;
  if (kind === 'circle') ann += `<circle cx="${x}" cy="${y}" r="${s}" fill="${color}"/>`;
  if (kind === 'up') ann += `<polygon points="${x},${y - s * 1.25} ${x + s * 1.2},${y + s} ${x - s * 1.2},${y + s}" fill="${color}"/>`;
  if (kind === 'down') ann += `<polygon points="${x},${y + s * 1.25} ${x + s * 1.2},${y - s} ${x - s * 1.2},${y - s}" fill="${color}"/>`;
}
function legendItem(kind, color, x1, x2, y, label, tx, size = 30) {
  line(x1, y, x2, y, 5.5, color);
  marker(kind, color, (x1 + x2) / 2, y, 11);
  text(tx, y, label, size, { anchor: 'start', weight: 'bold' });
}
const sup = s => `<tspan baseline-shift="super" font-size="68%">${s}</tspan>`;
const header = (x, y, s) => text(x, y, s, 24, { sx: 0.9 });
const gateValue = (x, y, s) => text(x, y, s, 17, { sx: 0.85 });

// panel letters
[['A', 16, 22], ['B', 493, 22], ['C', 817, 22], ['D', 1327, 23], ['E', 22, 533], ['F', 531, 525], ['G', 1018, 595], ['H', 1344, 595],
 ['I', 16.5, 1058], ['J', 537, 1052], ['K', 1019.5, 1120], ['L', 1343, 1120], ['M', 26, 1599], ['N', 580.6, 1688], ['O', 903, 1688], ['P', 1244, 1688]]
  .forEach(l => text(l[1], l[2], l[0], 30, { weight: 'bold' }));

// panel A annotations
text(15.7, 177, 'Surface Area (mm' + sup('2') + ')', 21, { rot: -90, weight: 'bold', ls: 0.3 });
text(264, 386, 'Day', 27, { weight: 'bold', sx: 0.8 });
[['circle', BLACK, 55, 'WT+ICI'], ['rect', GREEN, 82, 'WT'], ['up', RED, 108, 'TKO+ICI'], ['down', BLUE, 135, 'TKO']].forEach(r => {
  line(88, r[2], 111, r[2], 4, r[1]);
  marker(r[0], r[1], 99.5, r[2], 6.5);
  text(121, r[2], r[3], 22, { anchor: 'start', sx: 0.7 });
});
[[178, 52, 87, 189, '***', 197, 68], [203, 74, 108, 217, '**', 221, 92], [221, 74, 136, 231, '**', 236, 107],
 [243, 52, 108, 256, '****', 261.5, 81], [260, 52, 136, 273, '****', 281, 99]].forEach(b => {
  ann += `<path d="M${b[0]} ${b[1]}H${b[3]}V${b[2]}H${b[0]}" fill="none" stroke="#0a0a0a" stroke-width="4"/>`;
  stars(b[5], b[6], b[4], true);
});

// top legend
legendItem('rect', GREEN, 44, 88, 457, 'WT', 110);
legendItem('circle', BLACK, 186, 230, 457, 'WT + ICI', 252);
legendItem('down', BLUE, 413, 458, 457, 'TKO', 478);
legendItem('up', RED, 589, 633, 452, 'TKO + ICI', 656);

// B
text(489, 271, 'Tumor weight (g)', 19.5, { rot: -90, weight: 'bold', ls: 0.3 });
bracket(592.6, 62, 756.8, 138, 25, '*', 674.7, 11);
bracket(592.6, 157, 702.4, 90, 75, '*', 647.5, 57);
bracket(647.5, 157, 702.4, 137, 122, '****', 674.7, 105);
bracket(592.6, 257, 647.5, 205, 168, '*', 620.8, 152);
bracket(702.4, 358, 756.8, 183, 168, '****', 729.6, 152);

// C
header(971, 13, 'WT'); header(1190.5, 13, '155KO');
text(851, 132, 'PBS', 21, { rot: -90 }); text(851, 353, 'ICI', 21, { rot: -90 });
arrowUp(828, 463, 268, 300, 14, 5);
text(810, 373, 'CD8', 22, { rot: -90 });
arrowRight(479, 881, 1077.6, 1044, 18);
text(977, 493, 'CD3', 22);
[['18.1', 971, 38], ['4.69', 1189.5, 38], ['8.27', 971, 254], ['2.06', 1189.5, 254]].forEach(v => gateValue(v[1], v[2], v[0]));

// D
text(1314, 255, '# of CD8' + sup('+') + ' T cells/g of tumor', 22, { rot: -90, weight: 'bold', ls: 0.5 });
bracket(1429, 150, 1596.4, 150, 110, '**', 1513.7, 94);
bracket(1430, 217, 1482, 340, 162, '*', 1456, 145);
bracket(1490.3, 340, 1537, 178, 162, '0.099', 1513.7, 143);
bracket(1546, 178, 1596.4, 337, 162, '*', 1571, 145);

// E and F
header(181, 542, 'WT'); header(405, 542, '155KO');
header(628, 543, 'WT'); header(850, 543, '155KO');
text(57.5, 663, 'PBS', 21, { rot: -90 }); text(57.5, 889, 'ICI', 21, { rot: -90 });
arrowUp(30, 1000, 800.7, 833.5, 19, 6);
text(12.5, 909, 'CD8', 22, { rot: -90 });
arrowRight(1019.7, 42, 431, 398, 18);
text(223, 1036, 'Gzmb', 24);
arrowRight(1018, 520.6, 855, 822, 18);
text(679, 1034, 'Ifny', 24);
[['84.1', 264, 679], ['57.9', 489, 679], ['86.9', 265, 903], ['70.9', 489, 903], ['38.7', 679, 637], ['11.5', 902, 637], ['37.9', 679, 862], ['29.1', 902, 862]]
  .forEach(v => gateValue(v[1], v[2], v[0]));

// section titles
function section(cx, cy, size, x1, x2, ly) {
  text(cx, cy, 'CD45' + sup('+') + 'CD3e' + sup('+') + 'CD8' + sup('+') + 'cells', size, { weight: 'bold' });
  line(x1, ly, x2, ly, 7);
}
section(1313.5, 527, 26, 1028, 1602, 553);
section(1321, 1056, 26, 1034, 1609, 1082);
section(1068, 1598, 33, 616, 1524, 1628);

// G
text(986.7, 783, '% Gzmb' + sup('+'), 19, { rot: -90, weight: 'bold' });
bracket(1093.6, 678, 1147.5, 617, 599, '****', 1119.5, 583);
bracket(1155, 617, 1266, 637, 599, '*', 1210, 583);
bracket(1150.6, 718, 1203.6, 666, 650, '****', 1177.7, 633);
bracket(1212, 666, 1266, 705, 650, '*', 1239, 633);
// H
text(1315.7, 780, '%Ifny' + sup('+'), 19, { rot: -90, weight: 'bold' });
bracket(1412.7, 732, 1467.4, 788, 687, '*', 1440, 669);
bracket(1477, 788, 1527, 703, 687, '***', 1502, 669);
bracket(1535.6, 703, 1590.3, 783, 687, '**', 1563.6, 669);
// G/H legend
legendItem('rect', GREEN, 1126, 1168, 942, 'WT', 1188.5, 29);
legendItem('circle', BLACK, 1320, 1363, 942, 'WT + ICI', 1385, 29);
legendItem('down', BLUE, 1126, 1168, 984, 'TKO', 1188.5, 29);
legendItem('up', RED, 1320, 1363, 981, 'TKO + ICI', 1385, 29);

// I and J
header(185, 1066, 'WT'); header(406, 1066, '155KO');
header(631, 1063, 'WT'); header(853, 1063, '155KO');
text(64, 1189, 'PBS', 21, { rot: -90 }); text(64, 1411, 'ICI', 21, { rot: -90 });
arrowUp(43, 1513, 1314, 1347, 19, 6);
text(26, 1422, 'CD8', 22, { rot: -90 });
arrowRight(1543, 76, 395, 362.5, 19);
text(174.5, 1559, 'PD-1', 24);
arrowRight(1539, 525, 852, 820.6, 19);
text(631, 1554.5, 'Tim-3', 24);
[['94.2', 233, 1189], ['53.1', 454, 1189], ['84.0', 233, 1410], ['71.5', 454, 1410], ['64.4', 701, 1200], ['11.2', 923, 1200], ['68.0', 701, 1420], ['24.8', 923, 1420]]
  .forEach(v => gateValue(v[1], v[2], v[0]));

// K
text(988, 1332, '%PD-1' + sup('+'), 19, { rot: -90, weight: 'bold' });
bracket(1088.5, 1232, 1264, 1150, 1113, '****', 1176.4, 1095);
bracket(1146.7, 1180, 1264, 1232, 1163, '*', 1205.7, 1146);
bracket(1146.7, 1232, 1205.7, 1232, 1215, '****', 1176.4, 1197);
bracket(1088.5, 1282, 1146.7, 1313, 1266, '****', 1118, 1247);
bracket(1205.7, 1287, 1264, 1305, 1266, '**', 1234.6, 1247);
// L
text(1320, 1333, '%Tim-3' + sup('+'), 19, { rot: -90, weight: 'bold' });
bracket(1423.5, 1173, 1592.5, 1193, 1157, '*', 1507.5, 1142);
bracket(1423.5, 1242, 1475, 1382, 1206, '**', 1449, 1189);
bracket(1485, 1382, 1531, 1222, 1206, '**', 1508.4, 1189);
bracket(1540, 1222, 1592.5, 1295, 1206, '*', 1566.6, 1189);
// K/L legend
legendItem('rect', GREEN, 1118, 1160.5, 1494, 'WT', 1182, 29);
legendItem('circle', BLACK, 1311, 1355, 1494, 'WT + ICI', 1375, 29);
legendItem('down', BLUE, 1118, 1160.5, 1538, 'TKO', 1182, 29);
legendItem('up', RED, 1311, 1355, 1533, 'TKO + ICI', 1376, 29);

// M
text(180, 1599, 'WT', 23); text(408, 1599, '155KO', 23);
text(57, 1708.6, 'PBS', 21, { rot: -90 }); text(57, 1930, 'ICI', 21, { rot: -90 });
arrowUp(29, 2058, 1858, 1891, 19, 6);
text(12.5, 1954, 'CD62L', 23, { rot: -90 });
arrowRight(2074, 40, 241, 208, 19);
text(143, 2090.6, 'CD44', 23);
[['0.99', 91, 1634], ['9.32', 265, 1634], ['0.56', 91, 1813], ['89.1', 265, 1813], ['9.68', 318.6, 1634], ['39.5', 493, 1634], ['2.98', 318.6, 1813], ['47.9', 493, 1813],
 ['1.39', 91, 1860], ['9.29', 265, 1860], ['0.75', 91, 2037.5], ['88.6', 265, 2037.5], ['5.41', 318.6, 1860], ['42.0', 493, 1860], ['0.96', 318.6, 2037.5], ['51.6', 493, 2037.5]]
  .forEach(v => text(v[1], v[2], v[0], 15));

// N
text(579, 1873, '%CD44' + sup('-') + 'CD62L' + sup('+') + '(Tscm)', 20, { rot: -90, weight: 'bold', ls: 0.5 });
bracket(673, 2011, 726.8, 1785, 1770, '**', 700.7, 1754);
bracket(736.4, 1785, 846, 1937, 1770, '0.0847', 790, 1750);
bracket(731.6, 1840, 788.6, 2009.5, 1823, '*', 759.7, 1810);
// O
text(903, 1881, '%CD44' + sup('+') + 'CD62L' + sup('+') + '(CM)', 19.7, { rot: -90, weight: 'bold', ls: 0.5 });
bracket(1000, 1737, 1174, 1737, 1670, '****', 1087, 1653);
bracket(1058, 1737, 1116.6, 1737, 1721.5, '****', 1087, 1703.5);
bracket(1000, 1955, 1058, 1788, 1772, '****', 1030, 1754);
bracket(1116.6, 1913, 1174, 1796.5, 1772, '***', 1145.4, 1754);
// P
text(1243, 1889.5, '%CD44' + sup('+') + 'CD62L' + sup('-') + '(eff)', 19.4, { rot: -90, weight: 'bold', ls: 0.5 });
bracket(1347, 1815, 1514.7, 1739, 1702, '****', 1431.7, 1685.6);
bracket(1403, 1768, 1514.7, 1815, 1751.5, '*', 1459, 1734.6);
bracket(1403, 1815, 1459, 1815, 1800, '****', 1431.7, 1782);
bracket(1347, 1866, 1403, 1896, 1849, '****', 1374.7, 1831);
bracket(1459, 1867.5, 1514.7, 1893, 1849, '***', 1486.6, 1831);
// bottom legend
legendItem('rect', GREEN, 596, 640, 2065, 'WT', 661.6);
legendItem('circle', BLACK, 817, 862, 2065, 'WT + ICI', 884);
legendItem('down', BLUE, 1124, 1169.5, 2065, 'TKO', 1191);
legendItem('up', RED, 1355, 1399, 2061, 'TKO + ICI', 1421);

// flow plot frames, gates and quadrant lines
flows.forEach(f => {
  const [x0, y0, x1, y1] = f.box;
  ann += `<rect x="${x0}" y="${y0}" width="${x1 - x0}" height="${y1 - y0}" fill="none" stroke="#666" stroke-width="1.5"/>`;
  if (f.gate) {
    const g = f.gate;
    ann += `<rect x="${g[0]}" y="${g[1]}" width="${g[2] - g[0]}" height="${g[3] - g[1]}" fill="none" stroke="#0a0a0a" stroke-width="4.5"/>`;
  }
});
[[190, 1610, 190, 1830], [418.6, 1610, 418.6, 1830], [190, 1835, 190, 2056], [418.6, 1835, 418.6, 2056],
 [70.7, 1705.5, 291, 1705.5], [298, 1705.5, 518.6, 1705.5], [70.7, 1930.7, 291, 1930.7], [298, 1930.7, 518.6, 1930.7]]
  .forEach(l => line(l[0], l[1], l[2], l[3], 5));

document.getElementById('ann').innerHTML = ann;
</script>
</body>
</html>
